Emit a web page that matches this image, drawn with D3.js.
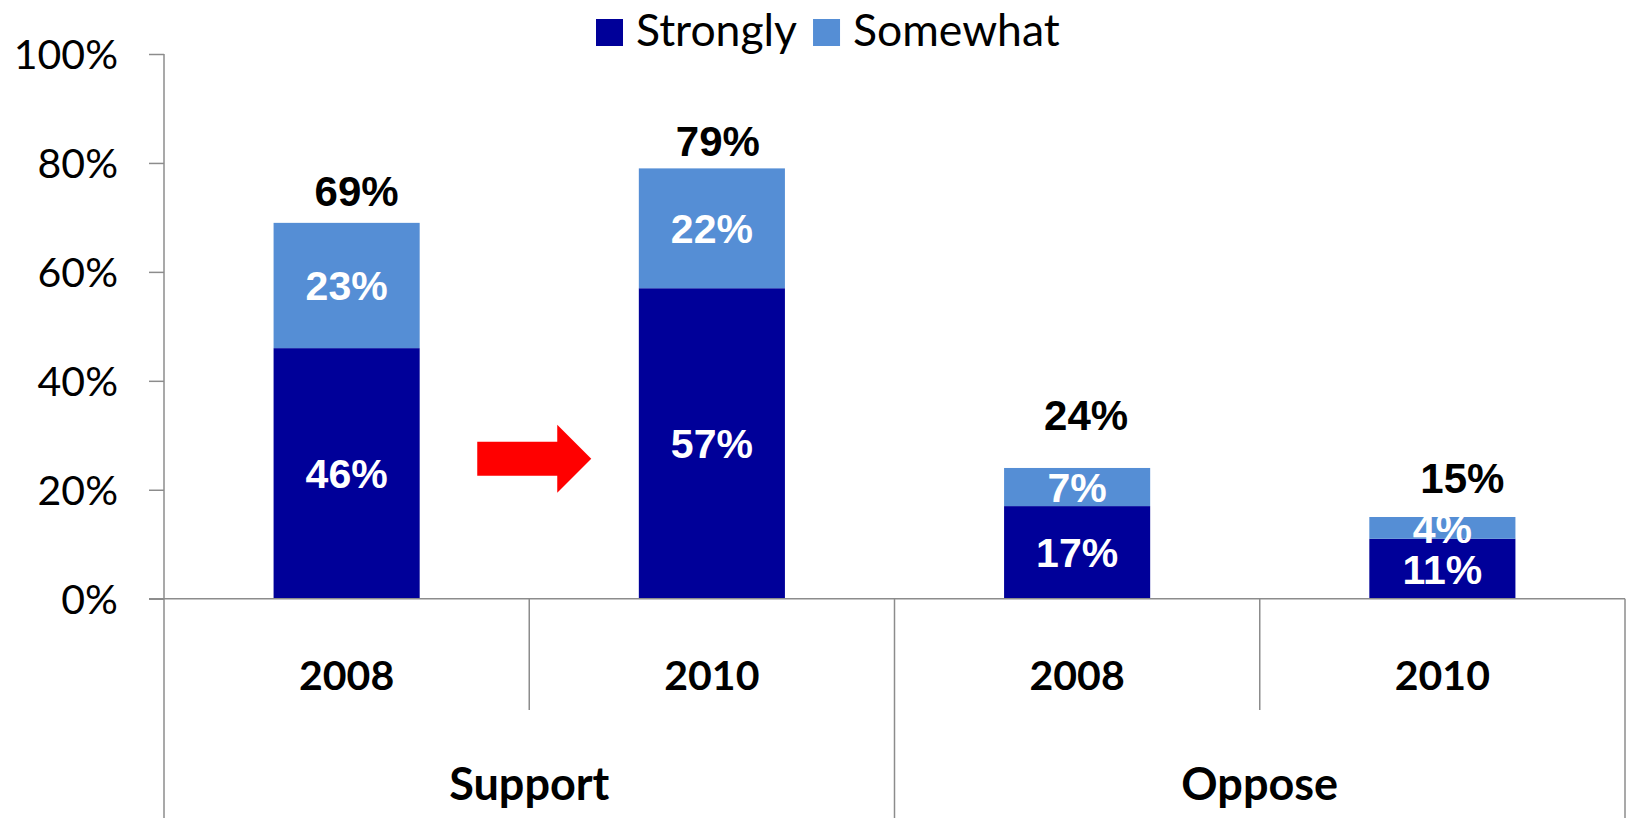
<!DOCTYPE html>
<html>
<head>
<meta charset="utf-8">
<script src="https://cdn.jsdelivr.net/npm/d3@7"></script>
<style>
  html, body { margin: 0; padding: 0; background: #fff; }
  svg { display: block; }
</style>
</head>
<body>
<svg id="chart" width="1627" height="818"></svg>
<script>
// data
var groups = ["Support", "Oppose"];
var years = ["2008", "2010", "2008", "2010"];
var strongly = [46, 57, 17, 11];
var somewhat = [23, 22, 7, 4];
var totals = [69, 79, 24, 15];
var yTicks = [0, 20, 40, 60, 80, 100];
var seriesNames = ["Strongly", "Somewhat"];
var seriesColors = ["#000099", "#558ED5"];

var svg = d3.select("#chart");

var left = 164, right = 1625,
	axisY = 598.7, topY = 54,
	yearLabelY = 690, groupLabelY = 800,
	innerTickBottom = 710, outerTickBottom = 818,
	lineColor = "#8c8c8c";

var rows = years.map(function(y, i) {
	return {i: i, Strongly: strongly[i], Somewhat: somewhat[i], total: totals[i]};
});

var x = d3.scaleBand()
	.domain(d3.range(years.length))
	.range([left, right])
	.paddingInner(0.6)
	.paddingOuter(0.3);

var xGroup = d3.scaleBand()
	.domain(groups)
	.range([left, right]);

var y = d3.scaleLinear()
	.domain([0, 100])
	.range([axisY, topY]);

var stack = d3.stack().keys(seriesNames);
var layers = stack(rows);

// bars
var layerG = svg.selectAll("g.layer")
	.data(layers)
	.enter().append("g")
	.attr("class", "layer")
	.attr("fill", function(d, i) { return seriesColors[i]; });

layerG.selectAll("rect")
	.data(function(d) { return d; })
	.enter().append("rect")
	.attr("x", function(d) { return x(d.data.i); })
	.attr("width", x.bandwidth())
	.attr("y", function(d) { return y(d[1]); })
	.attr("height", function(d) { return y(d[0]) - y(d[1]); });

// white labels inside segments
layerG.selectAll("text")
	.data(function(d) { return d; })
	.enter().append("text")
	.attr("x", function(d) { return x(d.data.i) + x.bandwidth() / 2; })
	.attr("y", function(d) { return (y(d[0]) + y(d[1])) / 2 + 15; })
	.attr("text-anchor", "middle")
	.attr("fill", "#fff")
	.style("font-family", "'Liberation Sans', Arial, sans-serif")
	.style("font-weight", "bold")
	.style("font-size", "41px")
	.text(function(d) { return (d[1] - d[0]) + "%"; });

// totals above the bars (hand placed in the original, so nudged a bit)
var totalNudge = [[10, -17], [6, -12], [9, -38], [20, -24]];
svg.selectAll("text.total")
	.data(rows)
	.enter().append("text")
	.attr("class", "total")
	.attr("x", function(d) { return x(d.i) + x.bandwidth() / 2 + totalNudge[d.i][0]; })
	.attr("y", function(d) { return y(d.total) + totalNudge[d.i][1]; })
	.attr("text-anchor", "middle")
	.attr("fill", "#000")
	.style("font-family", "'Liberation Sans', Arial, sans-serif")
	.style("font-weight", "bold")
	.style("font-size", "42px")
	.text(function(d) { return d.total + "%"; });

// y axis
var yAxis = d3.axisLeft(y)
	.tickValues(yTicks)
	.tickSize(15)
	.tickPadding(31)
	.tickFormat(function(d) { return d + "%"; });

var yAxisG = svg.append("g")
	.attr("transform", "translate(" + left + ",0)")
	.call(yAxis);
yAxisG.select(".domain").remove();
yAxisG.selectAll(".tick line").attr("stroke", lineColor).attr("stroke-width", 1.5);
yAxisG.selectAll(".tick text")
	.attr("dy", "0.36em")
	.attr("fill", "#000")
	.style("font-family", "Lato, 'Open Sans', sans-serif")
	.style("font-size", "41px");

// axis lines and category dividers
svg.append("line")
	.attr("x1", left).attr("x2", left)
	.attr("y1", topY).attr("y2", outerTickBottom)
	.attr("stroke", lineColor).attr("stroke-width", 1.5);
svg.append("line")
	.attr("x1", left - 15).attr("x2", right)
	.attr("y1", axisY).attr("y2", axisY)
	.attr("stroke", lineColor).attr("stroke-width", 1.5);

var dividers = [];
years.forEach(function(d, i) {
	if (i > 0) dividers.push({x: x(i) - x.step() * x.paddingInner() / 2, outer: i % 2 === 0});
});
dividers.push({x: right, outer: true});
svg.selectAll("line.div")
	.data(dividers)
	.enter().append("line")
	.attr("class", "div")
	.attr("x1", function(d) { return d.x; })
	.attr("x2", function(d) { return d.x; })
	.attr("y1", axisY)
	.attr("y2", function(d) { return d.outer ? outerTickBottom : innerTickBottom; })
	.attr("stroke", lineColor).attr("stroke-width", 1.5);

// year labels
svg.selectAll("text.year")
	.data(years)
	.enter().append("text")
	.attr("class", "year")
	.attr("x", function(d, i) { return x(i) + x.bandwidth() / 2; })
	.attr("y", yearLabelY)
	.attr("text-anchor", "middle")
	.style("font-family", "Lato, 'Open Sans', sans-serif")
	.style("font-weight", "bold")
	.style("font-size", "41px")
	.text(function(d) { return d; });

// group labels
svg.selectAll("text.group")
	.data(groups)
	.enter().append("text")
	.attr("class", "group")
	.attr("x", function(d) { return xGroup(d) + xGroup.bandwidth() / 2; })
	.attr("y", groupLabelY)
	.attr("text-anchor", "middle")
	.style("font-family", "Lato, 'Open Sans', sans-serif")
	.style("font-weight", "bold")
	.style("font-size", "45px")
	.text(function(d) { return d; });

// red arrow between the two Support bars
var arrowX = x(1) - x.step() * x.paddingInner() / 2 + 5,
	arrowY = y(25.7);
svg.append("path")
	.attr("transform", "translate(" + arrowX + "," + arrowY + ")")
	.attr("d", "M-57,-17 L23,-17 L23,-34 L57,0 L23,34 L23,17 L-57,17 Z")
	.attr("fill", "#ff0000");

// legend
var legend = svg.append("g").attr("class", "legend");
var lx = 596;
seriesNames.forEach(function(name, i) {
	legend.append("rect")
		.attr("x", lx).attr("y", 19)
		.attr("width", 27).attr("height", 27)
		.attr("fill", seriesColors[i]);
	var t = legend.append("text")
		.attr("x", lx + 40).attr("y", 46)
		.style("font-family", "Lato, 'Open Sans', sans-serif")
		.style("font-size", "44.5px")
		.text(name);
	lx += 40 + t.node().getComputedTextLength() + 16;
});
</script>
</body>
</html>
